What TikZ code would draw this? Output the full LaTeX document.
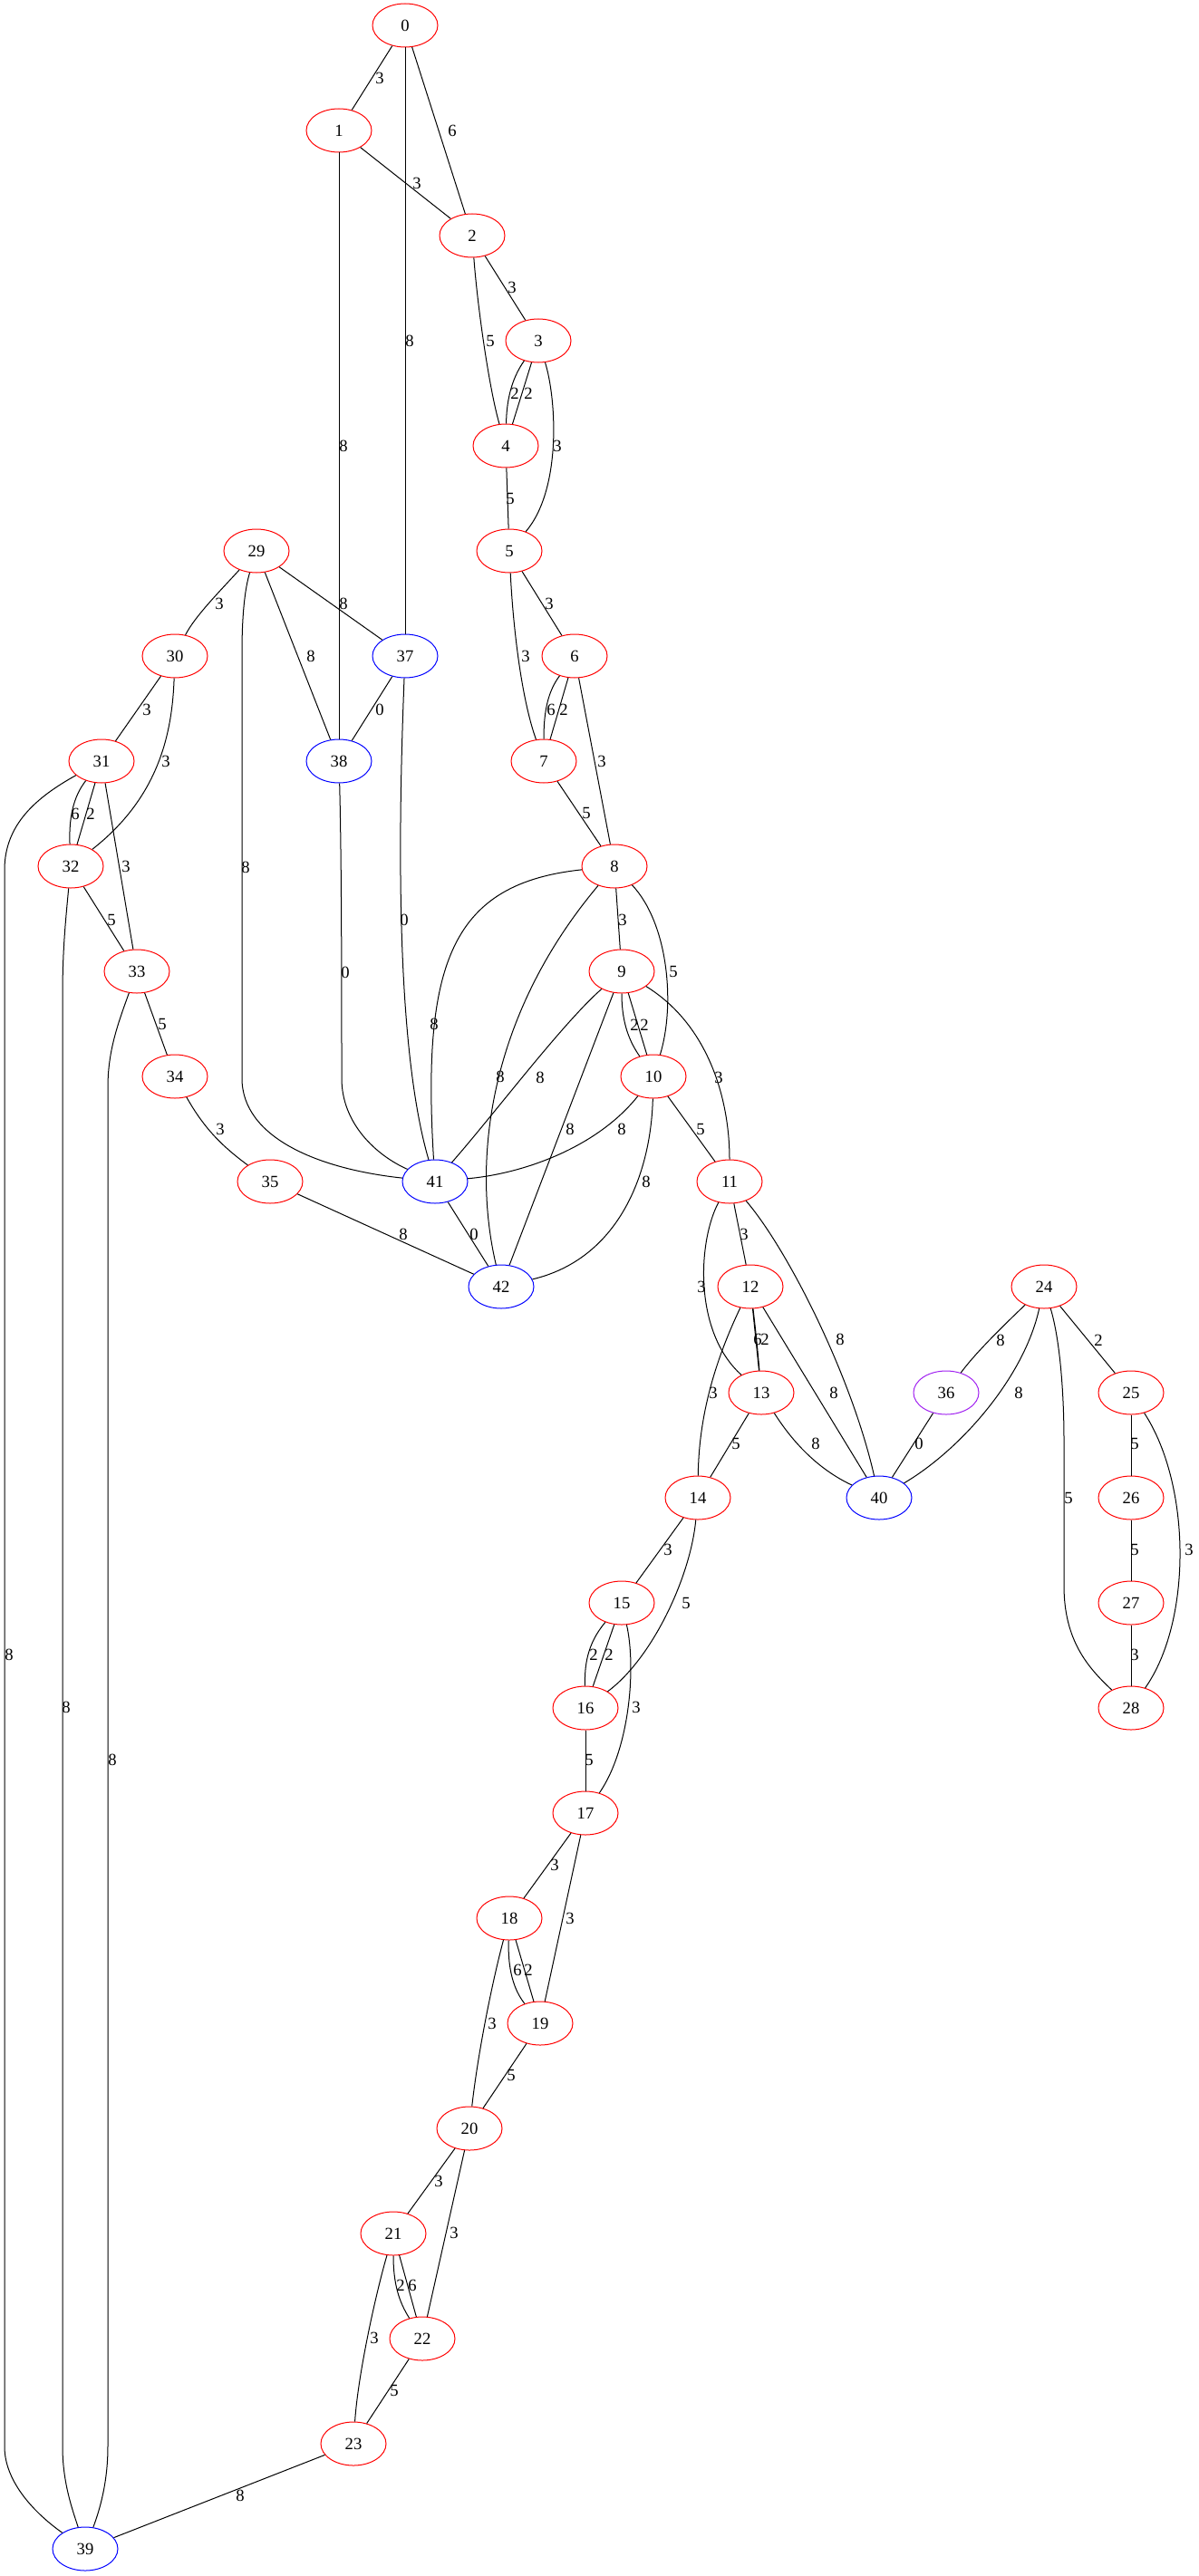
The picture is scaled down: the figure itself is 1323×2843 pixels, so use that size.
\documentclass[tikz,border=0pt]{standalone}
\usepackage{fontspec}
\setmainfont{Liberation Serif}
\usetikzlibrary{shapes.geometric}
\definecolor{gvpurple}{HTML}{A020F0}
\tikzset{
  vtx/.style    = {ellipse, draw, line width=0.75pt, minimum width=54pt, minimum height=36pt,
                   inner sep=0pt, font=\fontsize{14pt}{16pt}\selectfont},
  rvtx/.style   = {vtx, draw=red},
  bvtx/.style   = {vtx, draw=blue},
  pvtx/.style   = {vtx, draw=gvpurple},
  wlabel/.style = {inner sep=0pt, font=\fontsize{14pt}{16pt}\selectfont},
  edge/.style   = {line width=0.75pt}
}
\begin{document}
\begin{tikzpicture}[x=0.75pt, y=-0.75pt]
    \useasboundingbox (0,0) rectangle (1323,2843);
    \node[rvtx] (n0)  at ( 447,  28) {0};
    \node[rvtx] (n1)  at ( 374, 144) {1};
    \node[rvtx] (n2)  at ( 521, 260) {2};
    \node[rvtx] (n3)  at ( 594, 376) {3};
    \node[rvtx] (n4)  at ( 558, 492) {4};
    \node[rvtx] (n5)  at ( 562, 608) {5};
    \node[rvtx] (n29) at ( 283, 608) {29};
    \node[rvtx] (n30) at ( 193, 724) {30};
    \node[bvtx] (n37) at ( 447, 724) {37};
    \node[rvtx] (n6)  at ( 634, 724) {6};
    \node[rvtx] (n31) at ( 112, 840) {31};
    \node[bvtx] (n38) at ( 374, 840) {38};
    \node[rvtx] (n7)  at ( 600, 840) {7};
    \node[rvtx] (n32) at (  78, 956) {32};
    \node[rvtx] (n8)  at ( 678, 956) {8};
    \node[rvtx] (n33) at ( 151,1072) {33};
    \node[rvtx] (n9)  at ( 686,1072) {9};
    \node[rvtx] (n34) at ( 193,1188) {34};
    \node[rvtx] (n10) at ( 721,1188) {10};
    \node[rvtx] (n35) at ( 298,1304) {35};
    \node[bvtx] (n41) at ( 480,1304) {41};
    \node[rvtx] (n11) at ( 805,1304) {11};
    \node[bvtx] (n42) at ( 553,1420) {42};
    \node[rvtx] (n12) at ( 828,1420) {12};
    \node[rvtx] (n24) at (1152,1420) {24};
    \node[rvtx] (n13) at ( 840,1537) {13};
    \node[pvtx] (n36) at (1044,1537) {36};
    \node[rvtx] (n25) at (1248,1537) {25};
    \node[rvtx] (n14) at ( 770,1653) {14};
    \node[bvtx] (n40) at ( 970,1653) {40};
    \node[rvtx] (n26) at (1248,1653) {26};
    \node[rvtx] (n15) at ( 686,1769) {15};
    \node[rvtx] (n27) at (1248,1769) {27};
    \node[rvtx] (n16) at ( 646,1885) {16};
    \node[rvtx] (n28) at (1248,1885) {28};
    \node[rvtx] (n17) at ( 646,2001) {17};
    \node[rvtx] (n18) at ( 562,2117) {18};
    \node[rvtx] (n19) at ( 596,2233) {19};
    \node[rvtx] (n20) at ( 518,2349) {20};
    \node[rvtx] (n21) at ( 434,2465) {21};
    \node[rvtx] (n22) at ( 466,2581) {22};
    \node[rvtx] (n23) at ( 390,2697) {23};
    \node[bvtx] (n39) at (  94,2813) {39};
    % upper chain
    \draw[edge] (n0) -- (n1) node[wlabel] at (419,86) {3};
    \draw[edge] (n0) -- (n2) node[wlabel] at (499,144) {6};
    \draw[edge] (n0) -- (n37) node[wlabel] at (452,376) {8};
    \draw[edge] (n1) -- (n2) node[wlabel] at (460,202) {3};
    \draw[edge] (n1) -- (n38) node[wlabel] at (379,492) {8};
    \draw[edge] (n2) -- (n3) node[wlabel] at (565,317) {3};
    \draw[edge] (n2) .. controls (527,340) and (540,430) .. (n4) node[wlabel] at (541,376) {5};
    \draw[edge] (n3) .. controls (563,420) and (559,445) .. (n4) node[wlabel] at (568,434) {2};
    \draw[edge] (n3) -- (n4) node[wlabel] at (583,434) {2};
    \draw[edge] (n3) .. controls (614,440) and (620,540) .. (n5) node[wlabel] at (615,492) {3};
    \draw[edge] (n4) -- (n5) node[wlabel] at (563,550) {5};
    \draw[edge] (n5) -- (n6) node[wlabel] at (606,666) {3};
    \draw[edge] (n5) .. controls (566,690) and (575,770) .. (n7) node[wlabel] at (580,724) {3};
    \draw[edge] (n6) .. controls (603,765) and (600,790) .. (n7) node[wlabel] at (608,783) {6};
    \draw[edge] (n6) -- (n7) node[wlabel] at (622,783) {2};
    \draw[edge] (n6) -- (n8) node[wlabel] at (664,840) {3};
    \draw[edge] (n7) -- (n8) node[wlabel] at (647,897) {5};
    % left part
    \draw[edge] (n29) .. controls (245,650) and (215,680) .. (n30) node[wlabel] at (242,666) {3};
    \draw[edge] (n29) .. controls (270,650) and (267,680) .. (267,720) -- (267,1190)
                .. controls (267,1255) and (350,1290) .. (n41) node[wlabel] at (271,957) {8};
    \draw[edge] (n29) -- (n38) node[wlabel] at (343,724) {8};
    \draw[edge] (n29) -- (n37) node[wlabel] at (379,666) {8};
    \draw[edge] (n37) -- (n38) node[wlabel] at (419,783) {0};
    \draw[edge] (n37) .. controls (440,900) and (435,1150) .. (n41) node[wlabel] at (446,1015) {0};
    \draw[edge] (n38) .. controls (377,950) and (377,1100) .. (377,1190)
                .. controls (377,1240) and (415,1275) .. (n41) node[wlabel] at (381,1073) {0};
    \draw[edge] (n30) -- (n31) node[wlabel] at (162,783) {3};
    \draw[edge] (n30) .. controls (190,810) and (175,880) .. (n32) node[wlabel] at (183,840) {3};
    \draw[edge] (n31) .. controls (80,880) and (76,905) .. (n32) node[wlabel] at (83,898) {6};
    \draw[edge] (n31) -- (n32) node[wlabel] at (100,898) {2};
    \draw[edge] (n31) -- (n33) node[wlabel] at (139,956) {3};
    \draw[edge] (n31) .. controls (40,880) and (5,910) .. (5,960) -- (5,2700)
                .. controls (5,2740) and (40,2775) .. (n39) node[wlabel] at (10,1826) {8};
    \draw[edge] (n32) -- (n33) node[wlabel] at (123,1015) {5};
    \draw[edge] (n32) .. controls (72,1020) and (69,1050) .. (69,1100) -- (69,2700)
                .. controls (69,2740) and (80,2770) .. (n39) node[wlabel] at (73,1884) {8};
    \draw[edge] (n33) -- (n34) node[wlabel] at (179,1130) {5};
    \draw[edge] (n33) .. controls (130,1130) and (119,1160) .. (119,1200) -- (119,2700)
                .. controls (119,2740) and (110,2770) .. (n39) node[wlabel] at (124,1942) {8};
    \draw[edge] (n34) .. controls (225,1245) and (245,1265) .. (n35) node[wlabel] at (243,1246) {3};
    \draw[edge] (n35) -- (n42) node[wlabel] at (445,1362) {8};
    % middle part
    \draw[edge] (n8) .. controls (500,975) and (465,1060) .. (n41) node[wlabel] at (479,1130) {8};
    \draw[edge] (n8) .. controls (540,1120) and (520,1280) .. (n42) node[wlabel] at (552,1188) {8};
    \draw[edge] (n8) -- (n9) node[wlabel] at (687,1015) {3};
    \draw[edge] (n8) .. controls (738,1020) and (745,1110) .. (n10) node[wlabel] at (743,1072) {5};
    \draw[edge] (n9) .. controls (686,1130) and (695,1150) .. (n10) node[wlabel] at (700,1131) {2};
    \draw[edge] (n9) -- (n10) node[wlabel] at (711,1131) {2};
    \draw[edge] (n9) .. controls (780,1130) and (805,1210) .. (n11) node[wlabel] at (793,1189) {3};
    \draw[edge] (n9) .. controls (620,1130) and (545,1230) .. (n41) node[wlabel] at (596,1189) {8};
    \draw[edge] (n9) -- (n42) node[wlabel] at (629,1246) {8};
    \draw[edge] (n10) .. controls (660,1265) and (580,1295) .. (n41) node[wlabel] at (686,1246) {8};
    \draw[edge] (n10) -- (n11) node[wlabel] at (773,1246) {5};
    \draw[edge] (n10) .. controls (718,1300) and (680,1390) .. (n42) node[wlabel] at (713,1304) {8};
    \draw[edge] (n41) -- (n42) node[wlabel] at (523,1362) {0};
    \draw[edge] (n11) -- (n12) node[wlabel] at (821,1362) {3};
    \draw[edge] (n11) .. controls (770,1370) and (765,1470) .. (n13) node[wlabel] at (774,1420) {3};
    \draw[edge] (n11) .. controls (870,1380) and (940,1520) .. (n40) node[wlabel] at (927,1478) {8};
    \draw[edge] (n12) -- (n13) node[wlabel] at (836,1478) {6};
    \draw[edge] (n12) .. controls (834,1470) and (836,1490) .. (n13) node[wlabel] at (844,1478) {2};
    \draw[edge] (n12) .. controls (785,1510) and (771,1570) .. (n14) node[wlabel] at (787,1537) {3};
    \draw[edge] (n12) -- (n40) node[wlabel] at (920,1537) {8};
    \draw[edge] (n13) -- (n14) node[wlabel] at (812,1593) {5};
    \draw[edge] (n13) .. controls (880,1600) and (910,1625) .. (n40) node[wlabel] at (900,1593) {8};
    % right part
    \draw[edge] (n24) .. controls (1100,1470) and (1075,1495) .. (n36) node[wlabel] at (1104,1479) {8};
    \draw[edge] (n24) .. controls (1130,1520) and (1060,1600) .. (n40) node[wlabel] at (1124,1537) {8};
    \draw[edge] (n24) -- (n25) node[wlabel] at (1212,1479) {2};
    \draw[edge] (n24) .. controls (1170,1480) and (1174,1540) .. (1174,1590) -- (1174,1750)
                .. controls (1174,1810) and (1200,1840) .. (n28) node[wlabel] at (1179,1653) {5};
    \draw[edge] (n36) -- (n40) node[wlabel] at (1014,1593) {0};
    \draw[edge] (n25) -- (n26) node[wlabel] at (1252,1593) {5};
    \draw[edge] (n25) .. controls (1315,1640) and (1315,1790) .. (n28) node[wlabel] at (1312,1710) {3};
    \draw[edge] (n26) -- (n27) node[wlabel] at (1252,1710) {5};
    \draw[edge] (n27) -- (n28) node[wlabel] at (1252,1826) {3};
    % lower chain
    \draw[edge] (n14) -- (n15) node[wlabel] at (737,1710) {3};
    \draw[edge] (n14) .. controls (762,1740) and (720,1830) .. (n16) node[wlabel] at (757,1769) {5};
    \draw[edge] (n15) .. controls (647,1815) and (645,1840) .. (n16) node[wlabel] at (655,1826) {2};
    \draw[edge] (n15) -- (n16) node[wlabel] at (672,1826) {2};
    \draw[edge] (n15) .. controls (702,1840) and (695,1930) .. (n17) node[wlabel] at (702,1884) {3};
    \draw[edge] (n16) -- (n17) node[wlabel] at (650,1942) {5};
    \draw[edge] (n17) -- (n18) node[wlabel] at (612,2058) {3};
    \draw[edge] (n17) -- (n19) node[wlabel] at (629,2117) {3};
    \draw[edge] (n18) .. controls (560,2180) and (570,2200) .. (n19) node[wlabel] at (571,2174) {6};
    \draw[edge] (n18) -- (n19) node[wlabel] at (583,2174) {2};
    \draw[edge] (n18) .. controls (545,2180) and (528,2260) .. (n20) node[wlabel] at (543,2233) {3};
    \draw[edge] (n19) -- (n20) node[wlabel] at (564,2290) {5};
    \draw[edge] (n20) -- (n21) node[wlabel] at (484,2407) {3};
    \draw[edge] (n20) -- (n22) node[wlabel] at (501,2464) {3};
    \draw[edge] (n21) .. controls (434,2520) and (440,2540) .. (n22) node[wlabel] at (442,2522) {2};
    \draw[edge] (n21) -- (n22) node[wlabel] at (455,2522) {6};
    \draw[edge] (n21) .. controls (415,2530) and (395,2620) .. (n23) node[wlabel] at (413,2580) {3};
    \draw[edge] (n22) -- (n23) node[wlabel] at (435,2638) {5};
    \draw[edge] (n23) -- (n39) node[wlabel] at (265,2754) {8};
\end{tikzpicture}
\end{document}
